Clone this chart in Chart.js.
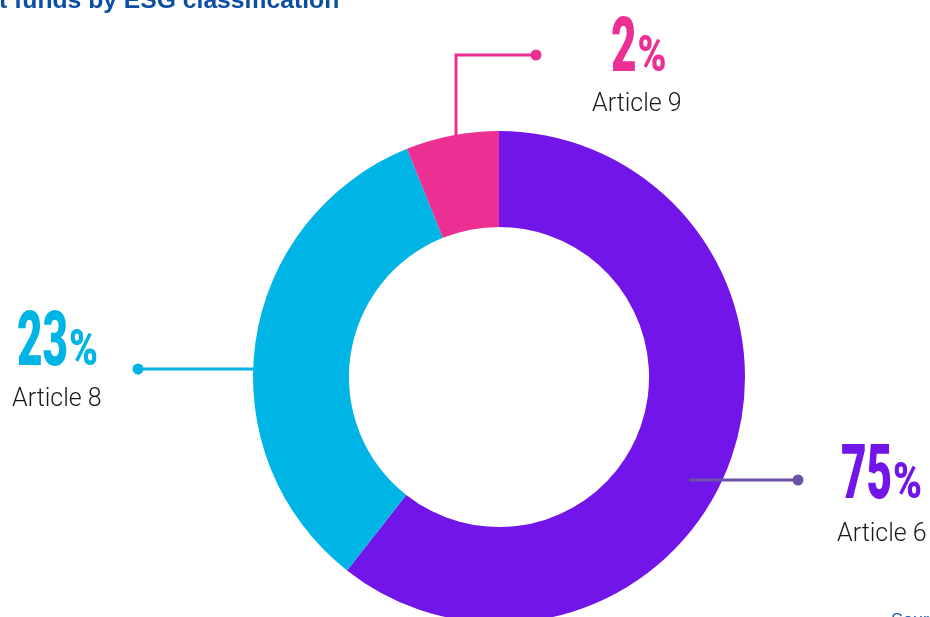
<!DOCTYPE html>
<html>
<head>
<meta charset="utf-8">
<script src="https://cdn.jsdelivr.net/npm/chart.js@4.4.1/dist/chart.umd.min.js"></script>
<style>
  html, body { margin: 0; padding: 0; background: #ffffff; overflow: hidden; }
  #wrap { width: 930px; height: 660px; position: relative; }
</style>
</head>
<body>
<div id="wrap"><canvas id="c" width="930" height="660"></canvas></div>
<script>
// ---- data ----
const categories = ['Article 6', 'Article 8', 'Article 9'];
// percentages printed next to each slice
const printedShares = [75, 23, 2];
// slice sizes as drawn in the reference (angular share of the ring, %)
const sliceShares = [60.6, 33.3, 6.1];
const titleText = 't funds by ESG classification';
const sourceText = 'Source';

const sliceColors = ['#7115E8', '#00B4E6', '#EC2F93'];
const connectorColors = ['#6A52A8', '#00B4E6', '#EC2F93'];

function condensed(ctx, text, x, y, font, sx, color) {
  ctx.save();
  ctx.font = font;
  ctx.fillStyle = color;
  ctx.textBaseline = 'alphabetic';
  ctx.textAlign = 'left';
  ctx.translate(x, y);
  ctx.scale(sx, 1);
  ctx.fillText(text, 0, 0);
  const w = ctx.measureText(text).width * sx;
  ctx.restore();
  return w;
}

function bigLabel(ctx, value, x, y, color) {
  const w = condensed(ctx, String(value), x, y, '900 76px Roboto', 0.58, color);
  condensed(ctx, '%', x + w + 1, y, '900 50px Roboto', 0.78, color);
}

function smallLabel(ctx, text, x, y) {
  ctx.save();
  ctx.font = '300 25px Roboto';
  ctx.fillStyle = '#1a1a1a';
  ctx.textBaseline = 'alphabetic';
  ctx.fillText(text, x, y);
  ctx.restore();
}

function dot(ctx, x, y, color) {
  ctx.beginPath();
  ctx.arc(x, y, 5.5, 0, Math.PI * 2);
  ctx.fillStyle = color;
  ctx.fill();
}

const annotate = {
  id: 'annotate',
  afterDraw(chart) {
    const ctx = chart.ctx;
    const arc = chart.getDatasetMeta(0).data[0];
    const cx = arc.x, cy = arc.y, R = arc.outerRadius;

    ctx.save();
    ctx.lineWidth = 3;
    ctx.lineCap = 'butt';

    // Article 6 connector
    ctx.strokeStyle = connectorColors[0];
    ctx.beginPath();
    ctx.moveTo(cx + 190, cy + 103);
    ctx.lineTo(cx + 299, cy + 103);
    ctx.stroke();
    dot(ctx, cx + 299, cy + 103, connectorColors[0]);

    // Article 8 connector
    ctx.strokeStyle = connectorColors[1];
    ctx.beginPath();
    ctx.moveTo(cx - 361, cy - 8);
    ctx.lineTo(cx - R + 4, cy - 8);
    ctx.stroke();
    dot(ctx, cx - 361, cy - 8, connectorColors[1]);

    // Article 9 connector
    ctx.strokeStyle = connectorColors[2];
    const vx = cx - 43;
    const vy0 = cy - Math.sqrt(R * R - 43 * 43) + 4;
    ctx.beginPath();
    ctx.moveTo(vx, vy0);
    ctx.lineTo(vx, cy - 322);
    ctx.lineTo(cx + 37, cy - 322);
    ctx.stroke();
    dot(ctx, cx + 37, cy - 322, connectorColors[2]);
    ctx.restore();

    // labels
    bigLabel(ctx, printedShares[0], cx + 342, cy + 121, sliceColors[0]);
    smallLabel(ctx, categories[0], cx + 338, cy + 164);
    bigLabel(ctx, printedShares[1], cx - 482, cy - 12, sliceColors[1]);
    smallLabel(ctx, categories[1], cx - 487, cy + 29);
    bigLabel(ctx, printedShares[2], cx + 112, cy - 306, sliceColors[2]);
    smallLabel(ctx, categories[2], cx + 93, cy - 266);

    // title (cropped at top) and source (cropped at bottom)
    ctx.save();
    ctx.font = 'bold 24.7px "Liberation Sans", Arial, sans-serif';
    ctx.fillStyle = '#0B4EA2';
    ctx.textBaseline = 'alphabetic';
    ctx.fillText(titleText, -1, 8);
    ctx.font = '18px "Liberation Sans", Arial, sans-serif';
    ctx.fillStyle = '#1F5FB0';
    ctx.fillText(sourceText, 891, 626);
    ctx.restore();
  }
};

function build() {
  new Chart(document.getElementById('c'), {
    type: 'doughnut',
    data: {
      labels: categories,
      datasets: [{
        data: sliceShares,
        backgroundColor: sliceColors,
        borderWidth: 0,
        hoverOffset: 0
      }]
    },
    options: {
      responsive: false,
      devicePixelRatio: 1,
      animation: false,
      cutout: '61%',
      layout: { padding: { left: 253, right: 185, top: 131, bottom: 37 } },
      plugins: { legend: { display: false }, tooltip: { enabled: false }, title: { display: false } },
      events: []
    },
    plugins: [annotate]
  });
}

Promise.all([
  document.fonts.load('900 76px Roboto'),
  document.fonts.load('300 25px Roboto'),
  document.fonts.load('bold 24px "Liberation Sans"')
]).then(build, build);
</script>
</body>
</html>
